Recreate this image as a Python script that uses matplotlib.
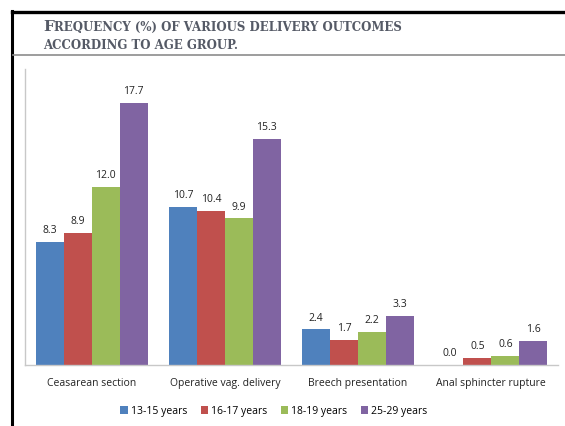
import numpy as np
import matplotlib.pyplot as plt
from matplotlib.lines import Line2D
from matplotlib.patches import Patch

categories = ["Ceasarean section", "Operative vag. delivery",
              "Breech presentation", "Anal sphincter rupture"]
groups = ["13-15 years", "16-17 years", "18-19 years", "25-29 years"]
values = {
    "13-15 years": [8.3, 10.7, 2.4, 0.0],
    "16-17 years": [8.9, 10.4, 1.7, 0.5],
    "18-19 years": [12.0, 9.9, 2.2, 0.6],
    "25-29 years": [17.7, 15.3, 3.3, 1.6],
}
colors = ["#4F81BD", "#C0504D", "#9BBB59", "#8064A2"]

W, H = 565, 427
fig = plt.figure(figsize=(W / 100, H / 100), dpi=100)
fig.patch.set_facecolor("white")

# frame lines of the panel
fig.add_artist(Line2D([12 / W, 12 / W], [0, 1 - 12 / H], color="black", lw=2.2))
fig.add_artist(Line2D([12 / W, 1], [1 - 13 / H, 1 - 13 / H], color="black", lw=2.4))
fig.add_artist(Line2D([13 / W, 1], [1 - 56 / H, 1 - 56 / H], color="#8c8c8c", lw=1.2))

# title in small caps
tcol = "#555a66"
serif = "DejaVu Serif"
r = fig.canvas.get_renderer()
t1 = fig.text(43 / W, 1 - 31 / H, "F", fontsize=11, fontweight="bold",
              family=serif, color=tcol, va="baseline")
ext = t1.get_window_extent(renderer=r)
fig.text(ext.x1 / W, 1 - 31 / H, "REQUENCY (%) OF VARIOUS DELIVERY OUTCOMES",
         fontsize=8.5, fontweight="bold", family=serif, color=tcol, va="baseline")
fig.text(43 / W, 1 - 49 / H, "ACCORDING TO AGE GROUP.", fontsize=8.5,
         fontweight="bold", family=serif, color=tcol, va="baseline")

ax = fig.add_axes([25 / W, 1 - 366 / H, 533 / W, 296 / H])
x = np.arange(len(categories))
bw = 0.21
for i, g in enumerate(groups):
    pos = x + (i - 1.5) * bw
    ax.bar(pos, values[g], width=bw, color=colors[i], label=g)
    for p, v in zip(pos, values[g]):
        ax.annotate(f"{v:.1f}", (p, v), xytext=(0, 5), textcoords="offset points",
                    ha="center", va="bottom", fontsize=7.5, color="#222222",
                    family="Open Sans")

ax.set_xlim(-0.5, len(categories) - 0.5)
ax.set_ylim(0, 20)
ax.set_xticks(x)
ax.set_xticklabels(categories, fontsize=7.5, family="Open Sans", color="#222222")
ax.tick_params(axis="x", length=0, pad=9)
ax.set_yticks([])
for s in ["top", "right"]:
    ax.spines[s].set_visible(False)
for s in ["left", "bottom"]:
    ax.spines[s].set_color("#c8c8c8")
    ax.spines[s].set_linewidth(1)

handles = [Patch(facecolor=c, label=g) for c, g in zip(colors, groups)]
fig.legend(handles=handles, loc="center", bbox_to_anchor=(274 / W, 1 - 412 / H),
           ncol=4, frameon=False, handlelength=0.7, handleheight=0.7,
           handletextpad=0.3, columnspacing=1.3, prop={"family": "Open Sans", "size": 7.5})

fig.savefig("out.png", dpi=100)
